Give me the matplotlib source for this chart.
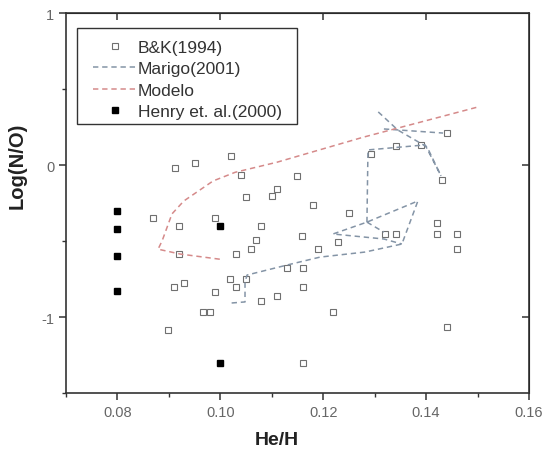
import matplotlib
matplotlib.use('Agg')
import matplotlib.pyplot as plt
from matplotlib.patches import Rectangle
from matplotlib.ticker import MultipleLocator
import numpy as np

plt.rcParams['font.family'] = ['Liberation Sans', 'DejaVu Sans']

# B&K (1994) planetary nebulae
bk_he = [0.0911, 0.0950, 0.1020, 0.1040, 0.1150, 0.1049, 0.1100, 0.1110,
         0.1181, 0.1250, 0.1080, 0.1070, 0.1159, 0.1229, 0.0990, 0.0870,
         0.0920, 0.0920, 0.1030, 0.1060, 0.1189, 0.1129, 0.1160, 0.1019,
         0.1049, 0.1030, 0.1160, 0.0990, 0.1080, 0.1110, 0.1220, 0.0909,
         0.0930, 0.0967, 0.0980, 0.0899, 0.1160, 0.1441, 0.1341, 0.1390,
         0.1292, 0.1430, 0.1421, 0.1421, 0.1461, 0.1320, 0.1341, 0.1461,
         0.1441]
bk_no = [-0.018, 0.015, 0.059, -0.064, -0.068, -0.211, -0.202, -0.156,
         -0.263, -0.314, -0.397, -0.491, -0.467, -0.505, -0.349, -0.350,
         -0.401, -0.585, -0.585, -0.552, -0.551, -0.677, -0.677, -0.748,
         -0.746, -0.799, -0.799, -0.832, -0.891, -0.862, -0.963, -0.799,
         -0.776, -0.965, -0.965, -1.082, -1.303, 0.211, 0.125, 0.136,
         0.074, -0.099, -0.377, -0.454, -0.454, -0.454, -0.454, -0.553,
         -1.066]

# Henry et al. (2000)
henry_he = [0.08, 0.08, 0.08, 0.08, 0.10, 0.10]
henry_no = [-0.30, -0.42, -0.60, -0.83, -0.40, -1.30]

# Marigo (2001) tracks, NaN separates pieces
nan = np.nan
marigo_he = [0.1022, 0.1048, 0.1048, 0.1052, 0.1130, 0.1194, 0.1281, 0.1353,
             0.1384, 0.1285, 0.1219, 0.1318, 0.1353, nan,
             0.1285, 0.1318, nan,
             0.1285, 0.1287, 0.1398, 0.1429, nan,
             0.1307, 0.1345, 0.1402, 0.1429, nan,
             0.1318, 0.1433]
marigo_no = [-0.906, -0.899, -0.768, -0.722, -0.656, -0.604, -0.571, -0.518,
             -0.235, -0.374, -0.452, -0.485, -0.518, nan,
             -0.374, -0.440, nan,
             -0.374, 0.101, 0.134, -0.070, nan,
             0.351, 0.232, 0.120, -0.070, nan,
             0.239, 0.212]

# model track
modelo_he = [0.0999, 0.0922, 0.0879, 0.0887, 0.0906, 0.0929, 0.0986, 0.1029,
             0.1110, 0.1277, 0.1499]
modelo_no = [-0.618, -0.584, -0.552, -0.496, -0.320, -0.235, -0.103, -0.046,
             0.020, 0.184, 0.382]

fig = plt.figure(figsize=(5.44, 4.52), dpi=100)
ax = fig.add_axes([0.1213, 0.1277, 0.8511, 0.8407])

ax.plot(bk_he, bk_no, ls='none', marker='s', ms=4.5, mfc='white',
        mec='#707070', mew=0.8, label='B&K(1994)')
ax.plot(marigo_he, marigo_no, color='#8494a6', lw=1.1, dashes=(3.5, 2.5),
        label='Marigo(2001)')
ax.plot(modelo_he, modelo_no, color='#d58a8a', lw=1.1, dashes=(3.5, 2.5),
        label='Modelo')
ax.plot(henry_he, henry_no, ls='none', marker='s', ms=4.8, color='black',
        label='Henry et. al.(2000)')

ax.set_xlim(0.07, 0.16)
ax.set_ylim(-1.5, 1.0)
ax.xaxis.set_major_locator(MultipleLocator(0.02))
ax.xaxis.set_minor_locator(MultipleLocator(0.01))
ax.yaxis.set_major_locator(MultipleLocator(1))
ax.yaxis.set_minor_locator(MultipleLocator(0.5))
ax.set_xticks([0.08, 0.10, 0.12, 0.14, 0.16])
ax.set_xticklabels(['0.08', '0.10', '0.12', '0.14', '0.16'])
ax.set_yticks([-1, 0, 1])
ax.set_yticklabels(['-1', '0', '1'])

for s in ax.spines.values():
    s.set_color('#333333')
    s.set_linewidth(1.2)
ax.tick_params(which='major', direction='out', length=5, width=1.1,
               color='#333333', labelsize=10.5, labelcolor='#666666')
ax.tick_params(which='minor', direction='out', length=3, width=1.0,
               color='#333333')
# inward ticks on the top and right frame
ax2 = ax.secondary_xaxis('top')
ax2.set_xticks([0.08, 0.10, 0.12, 0.14])
ax2.tick_params(direction='in', length=5, width=1.1, color='#333333',
                labeltop=False)
ax3 = ax.secondary_yaxis('right')
ax3.set_yticks([-1, 0])
ax3.tick_params(direction='in', length=5, width=1.1, color='#333333',
                labelright=False)

ax.set_xlabel('He/H', fontsize=14, fontweight='bold', color='#222222')
ax.set_ylabel('Log(N/O)', fontsize=14.5, fontweight='bold', color='#222222')
ax.xaxis.set_label_coords(0.456, -0.1)
ax.yaxis.set_label_coords(-0.085, 0.6)

ax.add_patch(Rectangle((0.0238, 0.7087), 0.4751, 0.2526,
                       transform=ax.transAxes, fill=False,
                       ec='#333333', lw=1.0, zorder=5))
ax.legend(loc='upper left', bbox_to_anchor=(0.0583, 0.93), frameon=False,
          borderpad=0, borderaxespad=0, fontsize=12.5, handlelength=2.5,
          handletextpad=0.1, labelspacing=0.36, labelcolor='#333333')

fig.savefig('out.png', dpi=100)
